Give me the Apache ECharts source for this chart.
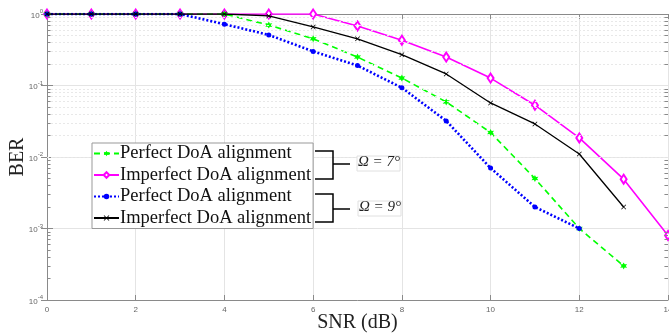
<!DOCTYPE html>
<html>
<head>
<meta charset="utf-8">
<script src="https://cdn.jsdelivr.net/npm/echarts@6/dist/echarts.min.js"></script>
<style>
  html, body { margin: 0; padding: 0; background: #fff; }
  #chart { width: 669px; height: 335px; }
</style>
</head>
<body>
<div id="chart"></div>
<script>
const snr = [0, 1, 2, 3, 4, 5, 6, 7, 8, 9, 10, 11, 12, 13, 14]
const perfect7 = [1, 1, 1, 1, 1, 0.70, 0.45, 0.25, 0.127, 0.059, 0.022, 0.005, 0.001, 0.0003]
const imperfect7 = [1, 1, 1, 1, 1, 1, 1, 0.68, 0.43, 0.25, 0.127, 0.053, 0.0185, 0.0049, 0.0008]
const perfect9 = [1, 1, 1, 1, 0.72, 0.51, 0.30, 0.19, 0.093, 0.032, 0.007, 0.002, 0.001]
const imperfect9 = [1, 1, 1, 1, 1, 0.94, 0.66, 0.45, 0.27, 0.145, 0.057, 0.029, 0.011, 0.002]
const decades = [1e-4, 1e-3, 1e-2, 1e-1]
const minorSteps = [2, 3, 4, 5, 6, 7, 8, 9]
const legendNames = {
  p7: 'Perfect DoA alignment',
  i7: 'Imperfect DoA alignment',
  p9: 'Perfect DoA alignment',
  i9: 'Imperfect DoA alignment'
}

const axisColor = '#8a8a8a'
const serif = '"Liberation Serif", "DejaVu Serif", serif'
const sans = '"Liberation Sans", Arial, sans-serif'

const pair = (ys) => ys.map((y, i) => [snr[i], y])

// minor log grid lines + inside ticks on left/right frame
const minorVals = []
decades.forEach(d => minorSteps.forEach(m => minorVals.push(+(d * m).toPrecision(3))))
const minorLines = minorVals.map(v => ({ yAxis: v }))
const sideTicks = []
minorVals.forEach(v => {
  sideTicks.push([{ coord: [0, v] }, { coord: [0.08, v] }])
  sideTicks.push([{ coord: [13.92, v] }, { coord: [14, v] }])
})

const starPath = 'path://M0,-10 L2.6,-4.5 L8.7,-5 L5.2,0 L8.7,5 L2.6,4.5 L0,10 L-2.6,4.5 L-8.7,5 L-5.2,0 L-8.7,-5 L-2.6,-4.5 Z'
const xPath = 'path://M-5,-4 L-4,-5 L0,-1 L4,-5 L5,-4 L1,0 L5,4 L4,5 L0,1 L-4,5 L-5,4 L-1,0 Z'

const chart = echarts.init(document.getElementById('chart'))

const yLabel = {
  color: '#666',
  fontFamily: sans,
  fontSize: 8,
  margin: 4,
  formatter: (v) => '{b|10}{e|' + Math.round(Math.log10(v)) + '}',
  rich: {
    b: { fontSize: 8, color: '#666', fontFamily: sans, verticalAlign: 'bottom' },
    e: { fontSize: 6, color: '#666', fontFamily: sans, verticalAlign: 'bottom', padding: [0, 0, 5, 0] }
  }
}

const option = {
  animation: false,
  backgroundColor: '#fff',
  grid: { left: 47, right: 1, top: 14, bottom: 35, containLabel: false, outerBoundsMode: 'none' },
  xAxis: [{
    type: 'value',
    min: 0,
    max: 14,
    interval: 2,
    name: 'SNR (dB)',
    nameLocation: 'middle',
    nameGap: 13,
    nameMoveOverlap: false,
    nameTextStyle: { fontFamily: serif, fontSize: 20, color: '#222', verticalAlign: 'top' },
    axisLine: { show: true, lineStyle: { color: axisColor, width: 1 } },
    axisTick: { show: true, inside: true, length: 5, lineStyle: { color: axisColor } },
    axisLabel: { color: '#666', fontFamily: sans, fontSize: 8, margin: 6 },
    splitLine: { show: true, lineStyle: { color: '#e4e4e4', width: 1 } }
  }, {
    type: 'value',
    position: 'top',
    min: 0,
    max: 14,
    interval: 2,
    axisLine: { show: true, lineStyle: { color: axisColor, width: 1 } },
    axisTick: { show: true, inside: true, length: 5, lineStyle: { color: axisColor } },
    axisLabel: { show: false },
    splitLine: { show: false }
  }],
  yAxis: [{
    type: 'log',
    logBase: 10,
    min: 1e-4,
    max: 1,
    name: 'BER',
    nameLocation: 'middle',
    nameGap: 19,
    nameMoveOverlap: false,
    nameRotate: 90,
    nameTextStyle: { fontFamily: serif, fontSize: 20, color: '#222', verticalAlign: 'bottom' },
    axisLine: { show: true, lineStyle: { color: axisColor, width: 1 } },
    axisTick: { show: true, inside: true, length: 6, lineStyle: { color: axisColor } },
    axisLabel: yLabel,
    splitLine: { show: true, lineStyle: { color: '#e4e4e4', width: 1 } }
  }, {
    type: 'log',
    logBase: 10,
    min: 1e-4,
    max: 1,
    position: 'right',
    axisLine: { show: true, lineStyle: { color: axisColor, width: 1 } },
    axisTick: { show: true, inside: true, length: 6, lineStyle: { color: axisColor } },
    axisLabel: { show: false },
    splitLine: { show: false }
  }],
  legend: {
    orient: 'vertical',
    left: 92,
    top: 143,
    z: 20,
    data: ['p7', 'i7', 'p9', 'i9'],
    formatter: (name) => legendNames[name],
    backgroundColor: '#fff',
    borderColor: '#999',
    borderWidth: 1,
    borderRadius: 0,
    padding: [1, 2, 1, 1],
    itemGap: 2.5,
    itemWidth: 25,
    itemHeight: 7,
    textStyle: { fontFamily: serif, fontSize: 18.5, lineHeight: 19, color: '#111', padding: [0, 0, 0, -4] },
    selectedMode: false
  },
  series: [{
    name: 'grid-minor',
    type: 'line',
    data: [],
    silent: true,
    z: 1,
    markLine: {
      silent: true,
      symbol: 'none',
      label: { show: false },
      lineStyle: { color: '#e8e8e8', type: [2, 2], width: 1 },
      data: minorLines
    }
  }, {
    name: 'side-ticks',
    type: 'line',
    data: [],
    silent: true,
    z: 1,
    markLine: {
      silent: true,
      symbol: 'none',
      label: { show: false },
      lineStyle: { color: axisColor, type: 'solid', width: 1 },
      data: sideTicks
    }
  }, {
    name: 'p7',
    type: 'line',
    data: pair(perfect7),
    color: '#00ff00',
    lineStyle: { color: '#00ff00', width: 1.6, type: [6, 4] },
    symbol: starPath,
    symbolSize: 7,
    itemStyle: { color: '#00ff00' },
    z: 4
  }, {
    name: 'i7',
    type: 'line',
    data: pair(imperfect7),
    color: '#ff00ff',
    lineStyle: { color: '#ff00ff', width: 1.6 },
    symbol: 'emptyDiamond',
    symbolSize: [6, 9],
    itemStyle: { color: '#ff00ff', borderColor: '#ff00ff', borderWidth: 1.3 },
    z: 3
  }, {
    name: 'p9',
    type: 'line',
    data: pair(perfect9),
    color: '#0000ff',
    lineStyle: { color: '#0000ff', width: 2.6, type: [2, 2] },
    symbol: 'circle',
    symbolSize: 5,
    itemStyle: { color: '#0000ff' },
    z: 5
  }, {
    name: 'i9',
    type: 'line',
    data: pair(imperfect9),
    color: '#000',
    lineStyle: { color: '#000', width: 1.3 },
    symbol: xPath,
    symbolSize: 5,
    itemStyle: { color: '#000' },
    z: 6
  }],
  graphic: [
    // bracket for Ω = 7°
    { type: 'polyline', z: 100, shape: { points: [[315, 151], [333, 151], [333, 179], [315, 179]] }, style: { stroke: '#000', lineWidth: 1.5, fill: null } },
    { type: 'line', z: 100, shape: { x1: 333, y1: 164, x2: 350, y2: 164 }, style: { stroke: '#000', lineWidth: 1.5 } },
    { type: 'rect', z: 100, shape: { x: 357, y: 156, width: 43, height: 15 }, style: { fill: '#fff', stroke: '#e0e0e0', lineWidth: 1 } },
    { type: 'text', z: 101, left: 358, top: 155, style: { text: 'Ω = 7°', fontFamily: serif, fontStyle: 'italic', fontSize: 15, fill: '#222' } },
    // bracket for Ω = 9°
    { type: 'polyline', z: 100, shape: { points: [[315, 194], [333, 194], [333, 222], [315, 222]] }, style: { stroke: '#000', lineWidth: 1.5, fill: null } },
    { type: 'line', z: 100, shape: { x1: 333, y1: 209, x2: 350, y2: 209 }, style: { stroke: '#000', lineWidth: 1.5 } },
    { type: 'rect', z: 100, shape: { x: 358, y: 201, width: 43, height: 15 }, style: { fill: '#fff', stroke: '#e0e0e0', lineWidth: 1 } },
    { type: 'text', z: 101, left: 359, top: 200, style: { text: 'Ω = 9°', fontFamily: serif, fontStyle: 'italic', fontSize: 15, fill: '#222' } }
  ]
}

chart.setOption(option)
</script>
</body>
</html>
